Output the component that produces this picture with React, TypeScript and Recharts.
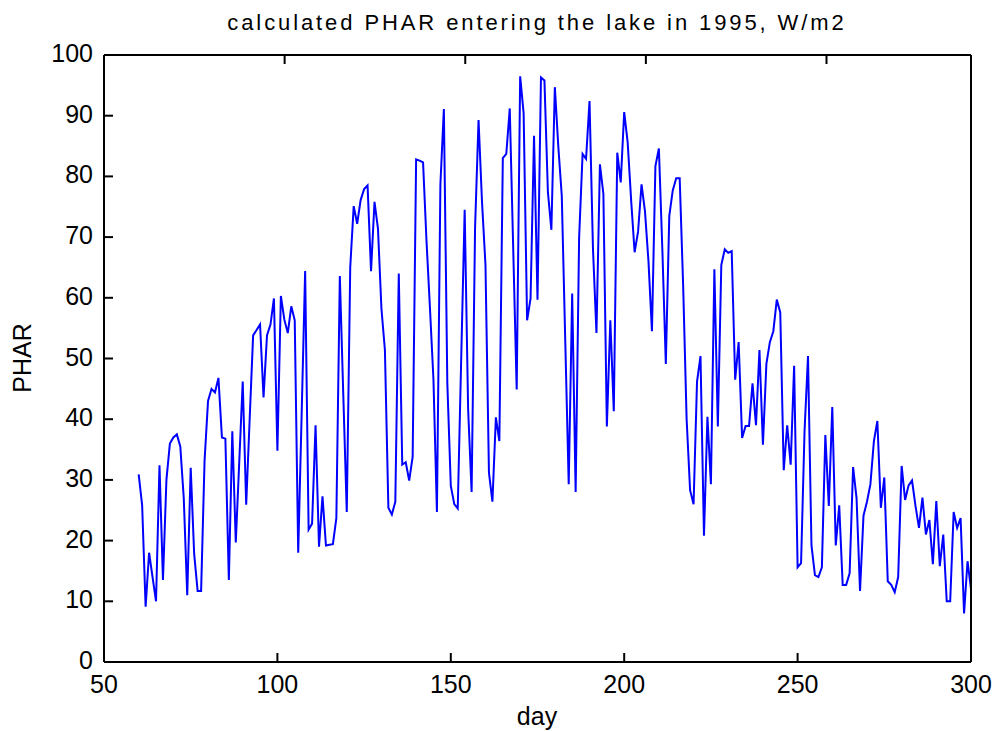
import { Line, LineChart, XAxis, YAxis } from "recharts";

const firstDay = 60;

// daily PHAR values, W/m2, day 60 .. 300
const phar = [
  30.9, 25.8, 9.1, 18, 14, 10, 32.4, 13.5, 30, 36, // 60
  37, 37.5, 35.5, 27, 11, 32, 17.8, 11.7, 11.7, 33.2, // 70
  43, 45, 44.4, 46.8, 37, 36.8, 13.5, 38, 19.7, 33, // 80
  46.2, 25.9, 40, 53.8, 54.7, 55.6, 43.6, 53.8, 55.6, 59.9, // 90
  34.8, 60.3, 56.4, 54.2, 58.6, 56.3, 18, 41, 64.4, 21.8, // 100
  22.8, 39, 19, 27.3, 19.2, 19.3, 19.4, 23.7, 63.6, 44, // 110
  24.7, 65, 75.1, 72.2, 76.1, 77.9, 78.5, 64.4, 75.8, 71.4, // 120
  58.2, 51.4, 25.4, 24.3, 26.4, 64, 32.5, 32.9, 29.9, 33.8, // 130
  82.8, 82.6, 82.3, 69.3, 58.2, 46.5, 24.7, 78.7, 91.1, 45.9, // 140
  29, 26, 25.3, 50, 74.5, 41.6, 28, 71.6, 89.3, 75.8, // 150
  65.4, 31.2, 26.4, 40.3, 36.4, 83, 83.7, 91.2, 68, 44.9, // 160
  96.5, 90.4, 56.3, 59.9, 86.7, 59.7, 96.3, 95.8, 77.4, 71.2, // 170
  94.7, 84.9, 76.8, 53, 29.3, 60.7, 28, 69.9, 83.7, 82.9, // 180
  92.4, 68, 54.2, 82, 77.1, 38.8, 56.3, 41.3, 83.9, 79, // 190
  90.6, 85.6, 76.1, 67.5, 70.9, 78.7, 74.2, 66, 54.5, 81.7, // 200
  84.6, 68, 49.1, 73.5, 77.7, 79.7, 79.7, 62, 40, 28.3, // 210
  26, 46.2, 50.4, 20.8, 40.4, 29.3, 64.7, 38.8, 65.4, 68, // 220
  67.4, 67.7, 46.5, 52.7, 36.9, 38.9, 38.9, 45.9, 39, 51.4, // 230
  35.8, 49.1, 52.7, 54.5, 59.7, 57.6, 31.6, 39, 32.5, 48.8, // 240
  15.6, 16.3, 38, 50.4, 19.2, 14.3, 14, 15.6, 37.4, 25.7, // 250
  42, 19.2, 25.8, 12.7, 12.7, 14.6, 32.1, 27, 11.7, 24.1, // 260
  26.4, 29.3, 36.4, 39.7, 25.4, 30.4, 13.3, 12.7, 11.5, 14, // 270
  32.3, 26.7, 29.1, 29.9, 25.7, 22.1, 27.1, 21, 23.4, 16.1, // 280
  26.5, 15.8, 21, 10, 10, 24.7, 22.1, 23.7, 8, 16.6, // 290
  12, // 300
];

const xTicks = [50, 100, 150, 200, 250, 300];
const yTicks = [0, 10, 20, 30, 40, 50, 60, 70, 80, 90, 100];

const data = phar.map((v, i) => ({ day: firstDay + i, value: v }));

const font = "'Liberation Sans', Arial, Helvetica, sans-serif";
const TICK = 9;

const BottomTick = ({ x, y, payload }: any) => (
  <g>
    <line x1={x} y1={y} x2={x} y2={y - TICK} stroke="#000" strokeWidth={2} />
    <text x={x} y={y + 22} textAnchor="middle" dominantBaseline="central" fontSize={25} fontFamily={font} fill="#000">
      {payload.value}
    </text>
  </g>
);

const TopTick = ({ x, y }: any) => (
  <line x1={x} y1={y} x2={x} y2={y + TICK} stroke="#000" strokeWidth={2} />
);

const LeftTick = ({ x, y, payload }: any) => (
  <g>
    <line x1={x} y1={y} x2={x + TICK} y2={y} stroke="#000" strokeWidth={2} />
    <text x={x - 11} y={y - 2} textAnchor="end" dominantBaseline="central" fontSize={25} fontFamily={font} fill="#000">
      {payload.value}
    </text>
  </g>
);

const RightTick = ({ x, y }: any) => (
  <line x1={x} y1={y} x2={x - TICK} y2={y} stroke="#000" strokeWidth={2} />
);

const axisLine = { stroke: "#000", strokeWidth: 2 };

export default function App() {
  return (
    <div style={{ position: "absolute", left: 0, top: 0, width: 994, height: 731, background: "#fff" }}>
      <LineChart width={994} height={731} data={data} margin={{ top: 0, right: 0, left: 0, bottom: 0 }}>
        <XAxis
          dataKey="day"
          type="number"
          domain={[50, 300]}
          ticks={xTicks}
          interval={0}
          height={69}
          tickSize={0}
          tickMargin={0}
          axisLine={axisLine}
          tickLine={false}
          tick={<BottomTick />}
        />
        <XAxis
          xAxisId="top"
          orientation="top"
          type="number"
          domain={[50, 300]}
          ticks={xTicks}
          interval={0}
          height={55}
          tickSize={0}
          tickMargin={0}
          axisLine={axisLine}
          tickLine={false}
          tick={<TopTick />}
        />
        <YAxis
          type="number"
          domain={[0, 100]}
          ticks={yTicks}
          interval={0}
          width={104}
          tickSize={0}
          tickMargin={0}
          axisLine={axisLine}
          tickLine={false}
          tick={<LeftTick />}
        />
        <YAxis
          yAxisId="right"
          orientation="right"
          type="number"
          domain={[0, 100]}
          ticks={yTicks}
          interval={0}
          width={23}
          tickSize={0}
          tickMargin={0}
          axisLine={axisLine}
          tickLine={false}
          tick={<RightTick />}
        />
        <Line
          type="linear"
          dataKey="value"
          stroke="#0000ff"
          strokeWidth={2}
          dot={false}
          isAnimationActive={false}
        />
      </LineChart>
      <svg width={994} height={731} style={{ position: "absolute", left: 0, top: 0, pointerEvents: "none" }}>
        <text x={537} y={22} textAnchor="middle" dominantBaseline="central" fontSize={22} letterSpacing={2.9} fontFamily={font} fill="#000">
          calculated PHAR entering the lake in 1995, W/m2
        </text>
        <text x={537} y={725} textAnchor="middle" fontSize={25} fontFamily={font} fill="#000">
          day
        </text>
        <text
          x={22}
          y={358}
          textAnchor="middle"
          dominantBaseline="central"
          fontSize={25}
          fontFamily={font}
          fill="#000"
          transform="rotate(-90 22 358)"
        >
          PHAR
        </text>
      </svg>
    </div>
  );
}
